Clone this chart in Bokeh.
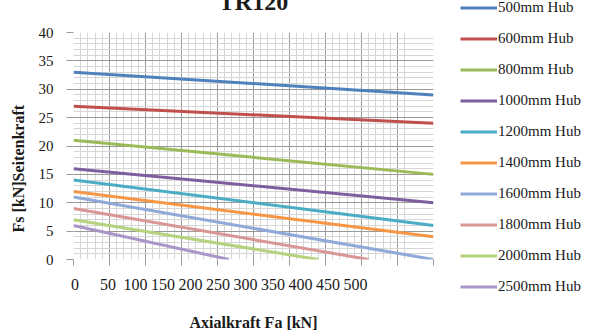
from bokeh.plotting import figure
from bokeh.layouts import row
from bokeh.models import (SingleIntervalTicker, FixedTicker, LinearAxis, Title,
                          Legend, LegendItem)
from bokeh.embed import file_html
from bokeh.resources import INLINE

# ---- data ----
series_names = ["500mm Hub", "600mm Hub", "800mm Hub", "1000mm Hub", "1200mm Hub",
                "1400mm Hub", "1600mm Hub", "1800mm Hub", "2000mm Hub", "2500mm Hub"]
x_start = [0, 0, 0, 0, 0, 0, 0, 0, 0, 0]
x_end = [500, 500, 500, 500, 500, 500, 500, 410, 340, 216]
fs_start = [33, 27, 21, 16, 14, 12, 11, 9, 7, 6]
fs_end = [29, 24, 15, 10, 6, 4, 0, 0, 0, 0]
colors = ["#4F81BD", "#C0504D", "#9BBB59", "#7D5FA0", "#4BACC6", "#F79646",
          "#8FA9D8", "#D99694", "#B5D27E", "#A996C8"]
x_tick_labels = ["0", "50", "100", "150", "200", "250", "300", "350", "400", "450", "500"]
title_text = "TR120"
x_title = "Axialkraft Fa [kN]"
y_title = "Fs [kN]Seitenkraft"

K = 50                      # hidden strip above the window (title is cut like the original)
W, H = 589, 333
W1 = 445                    # width of the chart part; the legend part takes the rest
FL, FR, FT, FB = 72, 433, 32, 260  # frame edges in window px
X0, X1, Y0, Y1 = 0, 500, 0, 40
NAN = float("nan")


def dx(px):  # window px -> data x
    return round(X0 + (px - FL) / (FR - FL) * (X1 - X0), 3)


p = figure(width=W1, height=H + K, output_backend="svg", toolbar_location=None,
           x_range=(X0, X1), y_range=(Y0, Y1),
           min_border_left=FL, min_border_right=W1 - FR,
           min_border_top=FT + K, min_border_bottom=H - FB)
p.outline_line_color = None
p.background_fill_color = "white"
p.border_fill_color = "white"

# title (mostly above the visible window, as in the reference)
p.title.text = title_text
p.title.align = "center"
p.title.vertical_align = "bottom"
p.title.standoff = 36
p.title.text_font = "Liberation Serif"
p.title.text_font_size = "24px"
p.title.text_font_style = "bold"
p.title.text_color = "#1a1a1a"

xt = SingleIntervalTicker(interval=50, num_minor_ticks=5)
yt = SingleIntervalTicker(interval=5, num_minor_ticks=5)
p.xaxis.ticker = xt
p.yaxis.ticker = yt
p.xgrid.ticker = xt
p.ygrid.ticker = yt
for g in (p.xgrid, p.ygrid):
    g.grid_line_color = "#9a9a9a"
    g.grid_line_width = 1
    g.minor_grid_line_color = "#d6d6d6"
    g.minor_grid_line_width = 1

for ax in (p.xaxis, p.yaxis):
    ax.axis_line_color = None
    ax.major_tick_line_color = "#9a9a9a"
    ax.major_tick_in = 0
    ax.minor_tick_line_color = None
p.yaxis.major_tick_out = 7
p.yaxis.major_label_standoff = 13
p.yaxis.major_label_text_font = "Liberation Serif"
p.yaxis.major_label_text_font_size = "15px"
p.yaxis.major_label_text_color = "#1a1a1a"

# x axis: tick marks only
p.xaxis.major_tick_out = 6
p.xaxis.major_label_standoff = 0
p.xaxis.major_label_overrides = {v: "" for v in range(0, 501, 50)}
p.xaxis.major_label_text_font_size = "1px"

# second x axis carrying the (shifted) tick labels and the axis title
lab_pos = [dx(73.5)] + [dx(106.5 + 27.6 * i) for i in range(len(x_tick_labels) - 1)]
ax2 = LinearAxis(ticker=FixedTicker(ticks=lab_pos),
                 major_label_overrides={v: t for v, t in zip(lab_pos, x_tick_labels)},
                 bounds=(0, dx(241) * 2),
                 axis_line_color=None, major_tick_out=0, major_tick_in=0,
                 minor_tick_out=0, minor_tick_in=0,
                 major_label_standoff=13,
                 major_label_text_font="Liberation Serif",
                 major_label_text_font_size="16px",
                 major_label_text_color="#1a1a1a",
                 axis_label=x_title, axis_label_standoff=21,
                 axis_label_text_font="Liberation Serif",
                 axis_label_text_font_style="bold",
                 axis_label_text_font_size="16px",
                 axis_label_text_color="#1a1a1a")
p.add_layout(ax2, "below")

# y axis title
p.add_layout(Title(text=y_title, align="left", offset=27, standoff=16,
                   vertical_align="middle", text_font="Liberation Serif",
                   text_font_style="bold", text_font_size="16px",
                   text_color="#1a1a1a"), "left")

for i, name in enumerate(series_names):
    p.line([x_start[i], x_end[i]], [fs_start[i], fs_end[i]],
           line_color=colors[i], line_width=3)

# ---- legend part (its own plot; legend sits in a side panel so it is not clipped) ----
W2 = W - W1
q = figure(width=W2, height=H + K, output_backend="svg", toolbar_location=None,
           x_range=(0, 1), y_range=(0, 1), x_axis_location=None, y_axis_location=None,
           min_border=0)
q.outline_line_color = None
q.grid.visible = False
q.background_fill_color = "white"
q.border_fill_color = "white"
leg_r = [q.line([NAN], [NAN], line_color=colors[i], line_width=3)
         for i in range(len(series_names))]
legend = Legend(items=[LegendItem(label=n, renderers=[r]) for n, r in zip(series_names, leg_r)],
                location=(460 - W1, FB - 298), orientation="vertical",
                label_text_font="Liberation Serif", label_text_font_size="15px",
                label_text_color="#1a1a1a",
                glyph_width=37, glyph_height=21, label_height=21, spacing=10,
                label_standoff=1, padding=0, margin=0,
                border_line_color=None, background_fill_alpha=0)
q.add_layout(legend, "left")

layout = row(p, q, spacing=0, styles={"margin-top": f"-{K}px"})
open("out.html", "w").write(file_html(layout, INLINE))
